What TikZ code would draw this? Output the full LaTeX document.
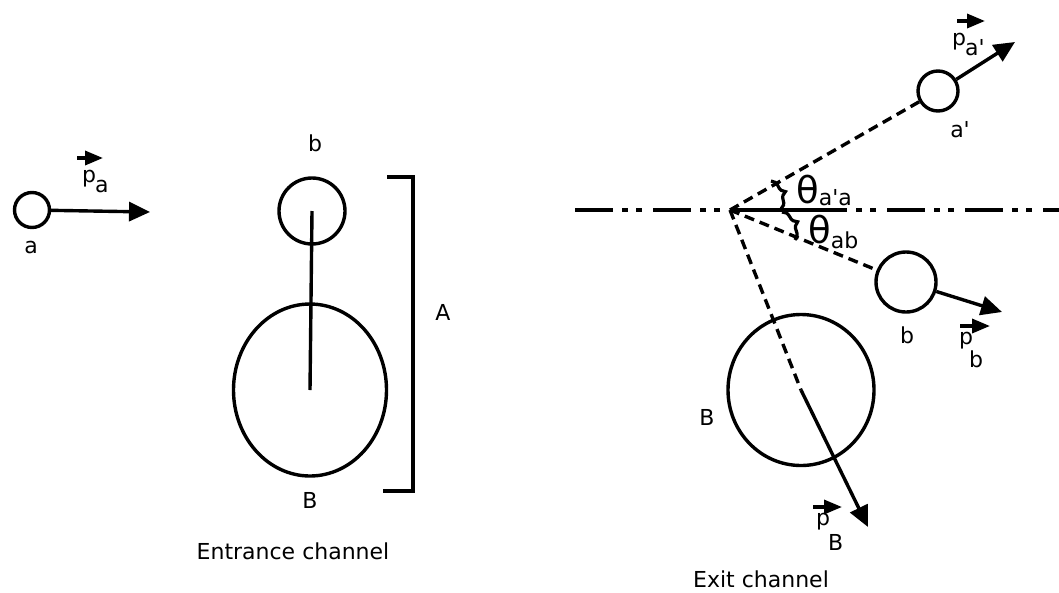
\documentclass[tikz,border=0pt]{standalone}
\usepackage{fontspec}
\setmainfont{DejaVu Sans}
\usetikzlibrary{arrows.meta,shapes.geometric,decorations.pathreplacing,calc}
\begin{document}
\begin{tikzpicture}[x=1pt,y=-1pt,
 ln/.style={line width=3.4pt},
 ball/.style={circle, draw, line width=3.4pt, inner sep=0pt},
 blob/.style={ellipse, draw, line width=3.4pt, inner sep=0pt},
 big/.style={-{Triangle[length=21pt,width=19pt]}, line width=3.4pt},
 vec/.style={-{Triangle[length=18pt,width=14pt]}, line width=3.4pt},
 dsh/.style={line width=3.4pt, dash pattern=on 10pt off 6pt},
 axisline/.style={line width=3.4pt, dash pattern=on 38pt off 9pt on 6pt off 8pt on 6pt off 11pt},
 lbl/.style={font=\fontsize{22}{24}\selectfont, inner sep=0pt},
 th/.style={font=\fontsize{37}{39}\selectfont, inner sep=0pt},
 brc/.style={decorate, decoration={brace, amplitude=10pt}, line width=3.2pt}]
\useasboundingbox (0,0) rectangle (1059,592);

% ---------- entrance channel ----------
\node[ball, minimum size=35pt] (ca) at (32,210) {};
\coordinate (tipa) at (150,212);
\draw[big] (ca) -- (tipa);
\node[lbl] (la) at (31,247) {a};
\node[lbl, anchor=base west] (pa) at (82,182) {p\kern-1pt\raisebox{-10pt}{a}};
\draw[vec] ($(pa.base west)+(-5,-24)$) -- ++(26,0);

\node[ball, minimum size=66pt] (cb) at (312,211) {};
\node[blob, minimum width=153pt, minimum height=172pt] (cB) at (310,390) {};
\draw[ln] (cb.center) -- (cB.center);
\node[lbl] (lb) at (315,143) {b};
\node[lbl] (lB) at (310,500) {B};

\coordinate (br1) at (387,177);
\coordinate (br2) at (413,177);
\coordinate (br3) at (413,491);
\coordinate (br4) at (383,491);
\draw[ln, line join=miter] (br1) -- (br2) -- (br3) -- (br4);
\node[lbl] (lA) at (443,312) {A};

\node[lbl] (ent) at (293,551) {Entrance channel};

% ---------- exit channel ----------
\coordinate (axL) at (575,210);
\coordinate (axR) at (1059,210);
\draw[axisline] (axL) -- (axR);
\coordinate (O) at (730,210);
\coordinate (axE) at (847,210);
\draw[ln] (O) -- (axE);

\node[ball, minimum size=40pt] (cap) at (938,91) {};
\node[ball, minimum size=60pt] (cb2) at (906,282) {};
\node[blob, minimum width=146pt, minimum height=151pt] (cB2) at (801,390) {};

\draw[dsh] (O) -- (cap);
\draw[dsh] (O) -- (cb2);
\draw[dsh] (O) -- (cB2.center);

\coordinate (tipap) at (1015,42);
\draw[big] (cap) -- (tipap);
\coordinate (tipb) at (1002,312);
\draw[big] (cb2) -- (tipb);
\coordinate (tipB) at (868,527);
\draw[big] (cB2.center) -- (tipB);

\node[lbl] (lap) at (960,130) {a\textquotesingle};
\node[lbl] (lb2) at (907,335) {b};
\node[lbl] (lB2) at (707,417) {B};

\node[lbl, anchor=base west] (pap) at (952,45) {p\kern-1pt\raisebox{-10pt}{a\textquotesingle}};
\draw[vec] ($(pap.base west)+(5,-24)$) -- ++(28,0);
\node[lbl, anchor=base west] (pb) at (959,344) {p\kern-4pt\raisebox{-23pt}{b}};
\draw[vec] ($(pb.base west)+(1,-18)$) -- ++(30,0);
\node[lbl, anchor=base west] (pB) at (816,525) {p\kern-2pt\raisebox{-25pt}{B}};
\draw[vec] ($(pB.base west)+(-3,-18)$) -- ++(29,0);

\coordinate (b1s) at (771,181);
\coordinate (b1e) at (781,209);
\coordinate (b2s) at (782,212);
\coordinate (b2e) at (795,240);
\draw[brc] (b1s) -- (b1e);
\draw[brc] (b2s) -- (b2e);
\node[th, anchor=base west] (t1) at (796,203) {θ\raisebox{-2pt}{\fontsize{22}{24}\selectfont a\textquotesingle a}};
\node[th, anchor=base west] (t2) at (808,243) {θ\raisebox{-5pt}{\fontsize{22}{24}\selectfont ab}};

\node[lbl] (ext) at (761,579) {Exit channel};
\end{tikzpicture}
\end{document}
